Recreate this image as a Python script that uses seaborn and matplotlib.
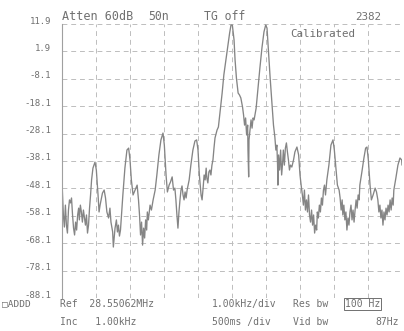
import matplotlib
matplotlib.use("Agg")
import matplotlib.pyplot as plt
from matplotlib.transforms import ScaledTranslation
import seaborn as sns

# trace: offset from centre (kHz), level (dB)
freq_khz = [
    -5.00, -4.99, -4.96, -4.93, -4.90, -4.87, -4.84, -4.81, -4.78, -4.75,
    -4.72, -4.69, -4.66, -4.63, -4.60, -4.57, -4.54, -4.51, -4.49, -4.46,
    -4.43, -4.40, -4.37, -4.34, -4.31, -4.28, -4.25, -4.22, -4.19, -4.16,
    -4.13, -4.09, -4.03, -3.99, -3.94, -3.91, -3.88, -3.85, -3.81, -3.76,
    -3.72, -3.68, -3.63, -3.59, -3.56, -3.51, -3.49, -3.44, -3.40, -3.37,
    -3.34, -3.31, -3.28, -3.25, -3.21, -3.15, -3.09, -3.04, -3.00, -2.96,
    -2.91, -2.85, -2.79, -2.75, -2.72, -2.69, -2.66, -2.63, -2.60, -2.57,
    -2.54, -2.51, -2.49, -2.46, -2.41, -2.37, -2.32, -2.26, -2.21, -2.15,
    -2.09, -2.03, -1.99, -1.94, -1.90, -1.85, -1.81, -1.76, -1.72, -1.68,
    -1.65, -1.62, -1.59, -1.56, -1.53, -1.50, -1.47, -1.44, -1.41, -1.38,
    -1.35, -1.32, -1.26, -1.21, -1.15, -1.09, -1.04, -1.00, -0.96, -0.91,
    -0.88, -0.85, -0.82, -0.79, -0.76, -0.74, -0.71, -0.68, -0.65, -0.62,
    -0.59, -0.56, -0.53, -0.50, -0.44, -0.40, -0.35, -0.29, -0.24, -0.15,
    -0.07, -0.03, 0.01, 0.06, 0.09, 0.13, 0.18, 0.22, 0.26, 0.31,
    0.34, 0.37, 0.40, 0.43, 0.46, 0.47, 0.49, 0.50, 0.53, 0.56,
    0.59, 0.62, 0.65, 0.71, 0.76, 0.82, 0.88, 0.94, 0.99, 1.03,
    1.07, 1.12, 1.18, 1.22, 1.26, 1.29, 1.32, 1.34, 1.35, 1.37,
    1.40, 1.43, 1.46, 1.49, 1.51, 1.54, 1.57, 1.60, 1.63, 1.66,
    1.69, 1.72, 1.76, 1.81, 1.85, 1.91, 1.96, 2.00, 2.04, 2.07,
    2.10, 2.13, 2.16, 2.19, 2.22, 2.25, 2.28, 2.31, 2.34, 2.37,
    2.40, 2.43, 2.46, 2.49, 2.51, 2.54, 2.57, 2.60, 2.63, 2.66,
    2.69, 2.72, 2.75, 2.79, 2.85, 2.91, 2.97, 3.01, 3.06, 3.10,
    3.15, 3.18, 3.21, 3.24, 3.26, 3.29, 3.32, 3.35, 3.38, 3.41,
    3.44, 3.47, 3.50, 3.53, 3.56, 3.59, 3.62, 3.65, 3.68, 3.71,
    3.74, 3.76, 3.82, 3.88, 3.93, 3.97, 4.01, 4.06, 4.10, 4.15,
    4.21, 4.25, 4.29, 4.32, 4.35, 4.38, 4.41, 4.44, 4.47, 4.50,
    4.53, 4.56, 4.59, 4.62, 4.65, 4.68, 4.71, 4.74, 4.76, 4.82,
    4.88, 4.94, 4.99, 5.00,
]
level_db = [
    -42.5, -48.7, -57.8, -62.2, -54.2, -61.5, -64.4, -56.0, -52.3, -53.4,
    -51.6, -57.8, -62.6, -65.1, -60.4, -63.3, -57.8, -55.3, -59.6, -54.2,
    -56.7, -60.4, -56.0, -58.9, -61.5, -57.8, -64.4, -61.5, -55.3, -50.5,
    -45.0, -40.7, -38.5, -41.4, -50.5, -56.7, -54.2, -52.3, -49.8, -48.7,
    -51.6, -56.7, -58.9, -55.3, -60.4, -64.0, -69.5, -62.6, -59.6, -64.0,
    -61.5, -65.5, -63.3, -57.8, -50.5, -40.7, -34.1, -33.4, -37.7, -45.0,
    -50.5, -48.7, -46.9, -52.3, -57.8, -65.1, -60.4, -68.8, -62.6, -66.2,
    -59.6, -63.3, -56.7, -59.6, -54.2, -56.0, -52.3, -48.7, -43.2, -35.9,
    -30.4, -27.9, -32.3, -43.2, -49.4, -46.9, -45.8, -43.9, -48.7, -48.0,
    -52.3, -57.8, -62.6, -56.7, -52.3, -48.7, -47.2, -50.5, -52.3, -49.4,
    -51.6, -48.7, -45.0, -39.6, -34.1, -30.8, -30.4, -34.1, -43.2, -50.5,
    -52.3, -48.0, -43.2, -45.0, -40.7, -44.3, -46.1, -42.1, -41.4, -43.2,
    -39.6, -37.7, -33.4, -29.7, -26.8, -25.7, -20.2, -13.3, -6.7, 1.3,
    8.6, 11.5, 11.5, 6.1, -1.2, -7.8, -13.3, -14.0, -15.1, -18.4,
    -21.3, -25.0, -22.4, -28.6, -25.0, -34.1, -43.9, -30.4, -26.8, -23.1,
    -26.1, -22.4, -23.1, -18.8, -12.2, -4.2, 3.1, 9.0, 11.5, 10.4,
    2.4, -7.4, -17.7, -25.0, -29.3, -34.1, -32.3, -39.6, -46.9, -35.9,
    -41.4, -34.1, -43.2, -38.5, -34.1, -39.6, -33.4, -31.5, -34.8, -37.7,
    -41.4, -39.6, -40.3, -37.7, -34.8, -33.0, -35.9, -43.2, -47.6, -50.5,
    -54.2, -48.7, -56.0, -52.3, -56.7, -50.5, -57.8, -60.4, -56.0, -61.5,
    -57.8, -64.4, -61.5, -63.3, -56.7, -58.9, -54.2, -56.7, -51.6, -54.2,
    -48.7, -46.9, -50.5, -45.0, -39.6, -32.3, -30.4, -34.1, -41.4, -46.9,
    -48.7, -51.6, -56.0, -52.3, -57.8, -54.2, -59.6, -56.7, -63.3, -58.9,
    -61.5, -56.7, -54.2, -59.6, -56.0, -60.4, -56.0, -52.3, -55.3, -50.5,
    -52.3, -46.9, -42.1, -37.0, -33.4, -33.0, -37.7, -46.9, -52.3, -50.5,
    -48.0, -49.4, -52.3, -56.7, -54.2, -58.9, -56.0, -61.5, -56.7, -59.6,
    -55.3, -57.8, -54.2, -56.7, -52.3, -56.0, -51.6, -54.2, -48.7, -44.3,
    -39.6, -37.0, -37.7, -39.6,
]

freq_ticks = [-5, -4, -3, -2, -1, 0, 1, 2, 3, 4, 5]
level_ticks = [11.9, 1.9, -8.1, -18.1, -28.1, -38.1, -48.1, -58.1, -68.1, -78.1, -88.1]
level_labels = ["11.9", "1.9", "-8.1", "-18.1", "-28.1", "-38.1",
                "-48.1", "-58.1", "-68.1", "-78.1", "-88.1"]

ink = "#707070"
sns.set_style("white")
plt.rcParams["font.family"] = ["DejaVu Sans Mono", "DejaVu Sans"]

W, H = 404, 331
fig = plt.figure(figsize=(W / 100, H / 100), dpi=100)
ax = fig.add_axes([62 / W, 1 - 298 / H, 340 / W, 274 / H])

sns.lineplot(x=freq_khz, y=level_db, ax=ax, color="#858585", linewidth=0.95,
             sort=False, estimator=None)

ax.set_xlim(-5, 5)
ax.set_ylim(-88.1, 11.9)
ax.set_xticks(freq_ticks)
ax.set_xticklabels([])
ax.set_yticks(level_ticks)
ax.set_yticklabels(level_labels, fontsize=6.5, color=ink)
ax.tick_params(length=0, pad=8)
for lab in ax.get_yticklabels():
    lab.set_transform(lab.get_transform() + ScaledTranslation(0, 0.04, fig.dpi_scale_trans))

ax.grid(True, color="#bdbdbd", linestyle=(0, (5, 4)), linewidth=0.7)
ax.set_axisbelow(True)
for side in ["top", "right", "bottom"]:
    ax.spines[side].set_visible(False)
ax.spines["left"].set_color("#a0a0a0")
ax.spines["left"].set_linewidth(0.8)


def put(px, py, s, size=7.5, **kw):
    fig.text(px / W, 1 - py / H, s, fontsize=size, color=ink, va="center", **kw)


# header annotations
put(62, 17, "Atten 60dB", size=8.5)
put(148, 17, "50n", size=8.3)
put(204, 17, "TG off", size=8.3)
put(355, 17, "2382", size=7.8)
put(290, 34, "Calibrated", size=7.8)

# footer annotations
put(2, 304, "\u25a1ADDD", size=6.8)
put(60, 304, "Ref  28.55062MHz", size=7)
put(60, 322, "Inc   1.00kHz", size=7)
put(212, 304, "1.00kHz/div", size=7)
put(212, 322, "500ms /div", size=7)
put(293, 304, "Res bw", size=7)
put(345, 304, "100 Hz", size=7,
    bbox=dict(boxstyle="square,pad=0.1", fc="none", ec=ink, lw=0.7))
put(293, 322, "Vid bw", size=7)
put(375, 322, "87Hz", size=7)

fig.savefig("out.png", dpi=100)
